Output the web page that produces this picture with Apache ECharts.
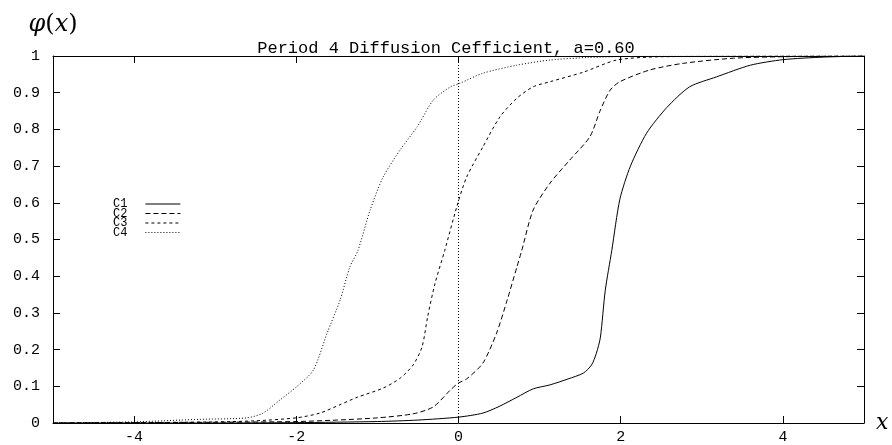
<!DOCTYPE html>
<html>
<head>
<meta charset="utf-8">
<script src="https://cdn.jsdelivr.net/npm/echarts@6/dist/echarts.min.js"></script>
<style>
  html, body { margin: 0; padding: 0; background: #fff; }
  #chart { width: 892px; height: 445px; }
</style>
</head>
<body>
<div id="chart"></div>
<script>
const titleText = 'Period 4 Diffusion Cefficient, a=0.60'
const xTicks = [-4, -2, 0, 2, 4]

const c1X = [-5, -3, -2, -1, -0.5, 0, 0.3, 0.5, 0.72, 0.92, 1.13, 1.35, 1.54, 1.64, 1.7, 1.75, 1.81, 1.89, 1.99, 2.12, 2.32, 2.57, 2.85, 3.18, 3.6, 4.0, 4.5, 5]
const c1Y = [0, 0, 0.001, 0.004, 0.008, 0.016, 0.027, 0.045, 0.07, 0.093, 0.104, 0.12, 0.136, 0.158, 0.19, 0.234, 0.362, 0.47, 0.61, 0.70, 0.79, 0.86, 0.916, 0.943, 0.975, 0.99, 0.997, 1]

const c2X = [-5, -4, -3, -2, -1.5, -1, -0.56, -0.31, -0.1, 0, 0.1, 0.3, 0.47, 0.6, 0.72, 0.78, 0.92, 1.13, 1.37, 1.62, 1.75, 1.87, 1.99, 2.36, 2.77, 3.39, 4, 5]
const c2Y = [0, 0.001, 0.002, 0.004, 0.008, 0.014, 0.025, 0.044, 0.09, 0.109, 0.12, 0.163, 0.245, 0.335, 0.425, 0.47, 0.58, 0.654, 0.716, 0.78, 0.853, 0.907, 0.93, 0.962, 0.98, 0.994, 0.998, 1]

const c3X = [-5, -4, -3, -2.5, -2, -1.71, -1.46, -1.25, -0.93, -0.72, -0.56, -0.45, -0.38, -0.29, -0.17, -0.02, 0.1, 0.3, 0.51, 0.72, 0.92, 1.13, 1.54, 1.95, 2.5, 5]
const c3Y = [0, 0.001, 0.003, 0.006, 0.014, 0.027, 0.05, 0.07, 0.095, 0.122, 0.158, 0.207, 0.29, 0.38, 0.47, 0.59, 0.67, 0.752, 0.834, 0.885, 0.916, 0.93, 0.956, 0.989, 0.998, 1]

const c4X = [-5, -4, -3.43, -3.19, -2.61, -2.41, -2.2, -1.99, -1.79, -1.62, -1.46, -1.34, -1.24, -1.09, -0.93, -0.72, -0.51, -0.31, -0.1, 0.02, 0.3, 0.72, 1.13, 1.6, 2.2, 5]
const c4Y = [0, 0.003, 0.008, 0.01, 0.014, 0.027, 0.063, 0.1, 0.144, 0.245, 0.335, 0.425, 0.47, 0.58, 0.67, 0.744, 0.807, 0.88, 0.916, 0.926, 0.953, 0.975, 0.989, 0.996, 0.999, 1]

const mono = 'Liberation Mono'
const serif = 'DejaVu Serif'

const zip = (xs, ys) => xs.map((x, i) => [x, ys[i]])

function curve(name, xs, ys, dash) {
  return {
    name,
    type: 'line',
    data: zip(xs, ys),
    symbol: 'none',
    smooth: 0.25,
    lineStyle: { color: '#000', width: 1, type: dash },
    itemStyle: { color: '#000' }
  }
}

const series = [
  curve('C1', c1X, c1Y, 'solid'),
  curve('C2', c2X, c2Y, [5, 3]),
  curve('C3', c3X, c3Y, [3, 3]),
  curve('C4', c4X, c4Y, [1, 2])
]

// dotted line at x = 0
series[0].markLine = {
  silent: true,
  symbol: ['none', 'none'],
  label: { show: false },
  lineStyle: { color: '#000', width: 1, type: [1, 2] },
  data: [{ xAxis: 0 }]
}

const axisLine = { show: true, onZero: false, lineStyle: { color: '#000', width: 1 } }

const chart = echarts.init(document.getElementById('chart'))
chart.setOption({
  animation: false,
  title: {
    text: titleText,
    left: 'center',
    top: 35,
    textStyle: { fontFamily: mono, fontSize: 17, fontWeight: 'normal', color: '#000' }
  },
  legend: {
    orient: 'vertical',
    left: 108,
    top: 193,
    align: 'right',
    itemWidth: 35,
    itemHeight: 8,
    itemGap: -2.5,
    selectedMode: false,
    itemStyle: { opacity: 0 },
    lineStyle: { width: 1 },
    textStyle: { fontFamily: mono, fontSize: 12, color: '#000', lineHeight: 8, padding: [0, 13, 0, 0] },
    data: ['C1', 'C2', 'C3', 'C4']
  },
  grid: { left: 53, right: 28, top: 56, bottom: 22 },
  xAxis: [
    {
      type: 'value',
      min: -5,
      max: 5,
      name: 'x',
      nameLocation: 'end',
      nameGap: 12,
      nameTextStyle: { fontFamily: serif, fontStyle: 'italic', fontSize: 22, color: '#000', verticalAlign: 'middle' },
      axisLine,
      axisTick: { show: true, inside: true, length: 7, customValues: xTicks, lineStyle: { color: '#000' } },
      axisLabel: { customValues: xTicks, margin: 7, fontFamily: mono, fontSize: 15, color: '#000', formatter: v => String(v) },
      splitLine: { show: false }
    },
    {
      type: 'value',
      position: 'top',
      min: -5,
      max: 5,
      axisLine,
      axisTick: { show: true, inside: true, length: 7, customValues: xTicks, lineStyle: { color: '#000' } },
      axisLabel: { show: false },
      splitLine: { show: false }
    }
  ],
  yAxis: [
    {
      type: 'value',
      min: 0,
      max: 1,
      interval: 0.1,
      name: '{i|φ}{n|(}{i|x}{n|)}',
      nameLocation: 'end',
      nameGap: 19,
      nameTextStyle: {
        rich: {
          i: { fontFamily: serif, fontStyle: 'italic', fontSize: 24, color: '#000' },
          n: { fontFamily: serif, fontSize: 24, color: '#000' }
        }
      },
      axisLine,
      axisTick: { show: true, inside: true, length: 7, lineStyle: { color: '#000' } },
      axisLabel: { margin: 13, fontFamily: mono, fontSize: 15, color: '#000', formatter: v => String(+v.toFixed(1)) },
      splitLine: { show: false }
    },
    {
      type: 'value',
      position: 'right',
      min: 0,
      max: 1,
      interval: 0.1,
      axisLine,
      axisTick: { show: true, inside: true, length: 7, lineStyle: { color: '#000' } },
      axisLabel: { show: false },
      splitLine: { show: false }
    }
  ],
  series
})
</script>
</body>
</html>
